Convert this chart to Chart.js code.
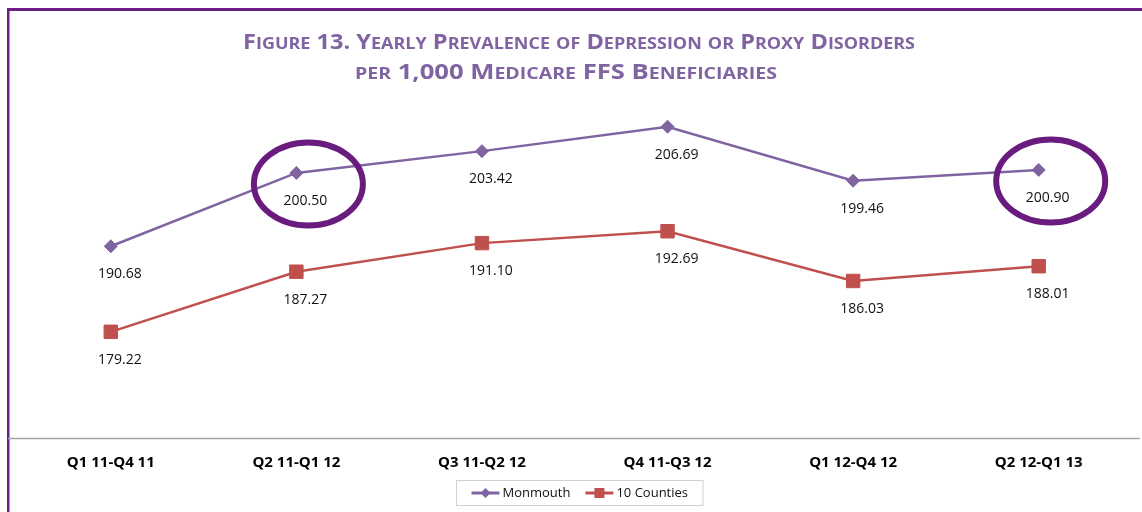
<!DOCTYPE html>
<html>
<head>
<meta charset="utf-8">
<script src="https://cdn.jsdelivr.net/npm/chart.js@4/dist/chart.umd.min.js"></script>
<style>
  html, body { margin: 0; padding: 0; background: #fff; }
  #wrap { width: 1142px; height: 512px; position: relative; }
</style>
</head>
<body>
<div id="wrap"><canvas id="c" width="1142" height="512"></canvas></div>
<script>
const categories = ["Q1 11-Q4 11", "Q2 11-Q1 12", "Q3 11-Q2 12", "Q4 11-Q3 12", "Q1 12-Q4 12", "Q2 12-Q1 13"];
const monmouth = [190.68, 200.50, 203.42, 206.69, 199.46, 200.90];
const tenCounties = [179.22, 187.27, 191.10, 192.69, 186.03, 188.01];
const seriesNames = ["Monmouth", "10 Counties"];
const highlighted = [1, 5];
const titleLines = ["Figure 13. Yearly Prevalence of Depression or Proxy Disorders", "per 1,000 Medicare FFS Beneficiaries"];

const PURPLE = "#8064A2";
const RED = "#C0504D";
const FRAME = "#6E1F84";

function drawSmallCaps(ctx, text, cx, y, big, small, family, targetW) {
  const segs = [];
  for (const ch of text) {
    const isLower = ch !== ch.toUpperCase();
    segs.push({ t: ch.toUpperCase(), s: isLower ? small : big });
  }
  let w = 0;
  for (const s of segs) { ctx.font = "bold " + s.s + "px " + family; s.w = ctx.measureText(s.t).width; w += s.w; }
  const k = targetW ? targetW / w : 1;
  ctx.save();
  ctx.translate(cx - (w * k) / 2, y);
  ctx.scale(k, 1);
  let x = 0;
  ctx.textBaseline = "alphabetic";
  ctx.textAlign = "left";
  for (const s of segs) { ctx.font = "bold " + s.s + "px " + family; ctx.fillText(s.t, x, 0); x += s.w; }
  ctx.restore();
}

const decor = {
  id: "decor",
  beforeDraw(chart) {
    const ctx = chart.ctx;
    ctx.save();
    ctx.fillStyle = "#fff";
    ctx.fillRect(0, 0, chart.width, chart.height);
    ctx.fillStyle = FRAME;
    ctx.fillRect(7, 8, chart.width - 7, 3);
    ctx.fillRect(7, 8, 2.5, chart.height - 8);
    // title
    ctx.fillStyle = PURPLE;
    drawSmallCaps(ctx, titleLines[0], 579, 49, 21, 16, "'Open Sans'", 672);
    drawSmallCaps(ctx, titleLines[1], 566, 79, 21, 16, "'Open Sans'", 422);
    // axis line
    const xs = chart.scales.x;
    ctx.strokeStyle = "#A6A6A6";
    ctx.lineWidth = 1.5;
    ctx.beginPath();
    ctx.moveTo(8, xs.top + 0.5);
    ctx.lineTo(chart.width - 2, xs.top + 0.5);
    ctx.stroke();
    ctx.restore();
  },
  afterDatasetsDraw(chart) {
    const ctx = chart.ctx;
    ctx.save();
    // value labels
    ctx.font = "14px 'Open Sans'";
    ctx.fillStyle = "#111";
    ctx.textAlign = "center";
    ctx.textBaseline = "middle";
    chart.data.datasets.forEach((ds, di) => {
      const meta = chart.getDatasetMeta(di);
      meta.data.forEach((pt, i) => {
        ctx.fillText(ds.data[i].toFixed(2), pt.x + 9, pt.y + 28);
      });
    });
    // highlight ellipses
    const m0 = chart.getDatasetMeta(0);
    ctx.strokeStyle = "#6A1B7E";
    ctx.lineWidth = 6;
    highlighted.forEach(i => {
      const pt = m0.data[i];
      ctx.beginPath();
      ctx.ellipse(pt.x + 12, pt.y + 11, 54.5, 41.5, 0, 0, Math.PI * 2);
      ctx.stroke();
    });
    // legend
    const items = chart.data.datasets.map(ds => ({ label: ds.label, color: ds.borderColor, style: ds.pointStyle }));
    ctx.font = "13px 'Open Sans'";
    const lineW = 28, gapT = 3, gapItems = 15, padX = 15;
    let total = 0;
    items.forEach((it, i) => { it.tw = ctx.measureText(it.label).width; total += lineW + gapT + it.tw + (i ? gapItems : 0); });
    const boxW = total + padX * 2, boxH = 25;
    const bx = Math.round(579 - boxW / 2) + 0.5, by = 480.5;
    ctx.strokeStyle = "#D0D0D0";
    ctx.lineWidth = 1;
    ctx.strokeRect(bx, by, boxW, boxH);
    let x = bx + padX;
    const cy = by + boxH / 2;
    items.forEach((it, i) => {
      if (i) x += gapItems;
      ctx.strokeStyle = it.color;
      ctx.fillStyle = it.color;
      ctx.lineWidth = 3;
      ctx.beginPath(); ctx.moveTo(x, cy); ctx.lineTo(x + lineW, cy); ctx.stroke();
      const mx = x + lineW / 2;
      ctx.beginPath();
      if (it.style === "rectRot") {
        ctx.moveTo(mx, cy - 5); ctx.lineTo(mx + 5, cy); ctx.lineTo(mx, cy + 5); ctx.lineTo(mx - 5, cy); ctx.closePath();
      } else {
        ctx.rect(mx - 5, cy - 5, 10, 10);
      }
      ctx.fill();
      x += lineW + gapT;
      ctx.fillStyle = "#111";
      ctx.textAlign = "left";
      ctx.fillText(it.label, x, cy + 0.5);
      x += it.tw;
    });
    ctx.restore();
  }
};

new Chart(document.getElementById("c"), {
  type: "line",
  data: {
    labels: categories,
    datasets: [
      { label: seriesNames[0], data: monmouth, borderColor: PURPLE, backgroundColor: PURPLE,
        borderWidth: 2.5, pointStyle: "rectRot", pointRadius: 6.5, pointHoverRadius: 6.5, pointBorderWidth: 1, tension: 0 },
      { label: seriesNames[1], data: tenCounties, borderColor: RED, backgroundColor: RED,
        borderWidth: 2.5, pointStyle: "rect", pointRadius: 9.5, pointHoverRadius: 9.5, pointBorderWidth: 1, tension: 0 }
    ]
  },
  options: {
    responsive: false,
    animation: false,
    layout: { padding: { top: 102, left: 18, right: 2, bottom: 0 } },
    plugins: { legend: { display: false }, title: { display: false }, tooltip: { enabled: false } },
    scales: {
      x: {
        offset: true,
        grid: { display: false, drawTicks: false },
        border: { display: false },
        ticks: { font: { family: "'Open Sans'", weight: "bold", size: 15 }, color: "#000", padding: 16 },
        afterFit: s => { s.height = 74; }
      },
      y: { display: false, min: 165, max: 210 }
    }
  },
  plugins: [decor]
});
</script>
</body>
</html>
